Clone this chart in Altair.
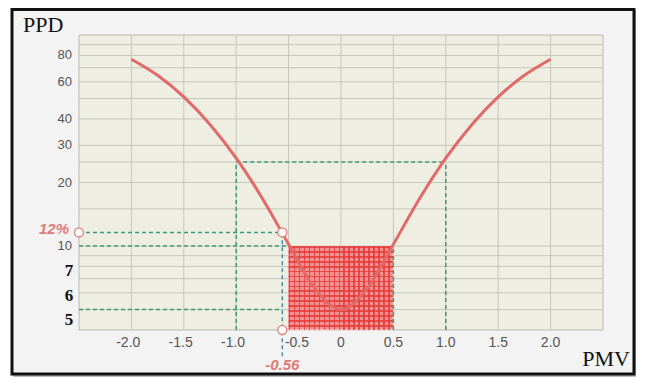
import altair as alt
import pandas as pd

# ---- data ----
pmv = [-2.0, -1.75, -1.5, -1.25, -1.0, -0.75, -0.5, -0.25, 0.0,
       0.25, 0.5, 0.75, 1.0, 1.25, 1.5, 1.75, 2.0]
ppd = [76.8, 64.4, 50.9, 37.7, 26.1, 16.8, 10.2, 6.3, 5.0,
       6.3, 10.2, 16.8, 26.1, 37.7, 50.9, 64.4, 76.8]

x_ticks = [-2.0, -1.5, -1.0, -0.5, 0.0, 0.5, 1.0, 1.5, 2.0]
x_tick_labels = ["-2.0", "-1.5", "-1.0", "-0.5", "0", "0.5", "1.0", "1.5", "2.0"]
x_label_pos = [-2.03, -1.53, -1.03, -0.42, 0.0, 0.5, 1.0, 1.5, 2.0]
y_ticks = [10, 20, 30, 40, 60, 80]
y_tick_labels = ["10", "20", "30", "40", "60", "80"]
y_grid = [5, 6, 7, 8, 9, 10, 15, 20, 25, 30, 40, 50, 60, 70, 80, 90]
serif_labels = ["7", "6", "5"]
serif_label_pos = [7.61, 5.8, 4.46]

zone_x = [-0.5, 0.5]
zone_y = [4, 10]

seg_x1 = [-1.0, -1.0, 1.0, -2.5, -0.56, -2.5, 0.5, -2.5]
seg_x2 = [1.0, -1.0, 1.0, -0.56, -0.56, -0.56, 0.5, -0.5]
seg_y1 = [25, 4, 4, 11.6, 3.0, 5.0, 4, 10]
seg_y2 = [25, 25, 25, 11.6, 11.6, 5.0, 10, 10]
seg_col = ["#3f9a78", "#3f9a78", "#3f9a78", "#3f9a78", "#4a8fa8", "#3f9a78", "#3f9a78", "#3f9a78"]

marker_x = [-2.5, -0.56, -0.56]
marker_y = [11.6, 11.6, 4]

X_DOM = [-2.5, 2.5]
Y_DOM = [4, 100]

W, H = 524, 295

xs = alt.Scale(domain=X_DOM, nice=False, zero=False)
ys = alt.Scale(type="log", domain=Y_DOM, nice=False)

one = pd.DataFrame({"a": [0]})

# outer frame (decoration)
shadow = alt.Chart(one).mark_rect(fill="#f3f3f3", stroke="#a0a0a0", strokeWidth=4, opacity=0.7).encode(
    x=alt.value(-64), x2=alt.value(558), y=alt.value(-23), y2=alt.value(342))
frame = alt.Chart(one).mark_rect(fill="#f3f3f3", stroke="#111111", strokeWidth=3).encode(
    x=alt.value(-67), x2=alt.value(555), y=alt.value(-25.5), y2=alt.value(339))

# plot background
bg_df = pd.DataFrame({"x0": [X_DOM[0]], "x1": [X_DOM[1]], "y0": [Y_DOM[0]], "y1": [Y_DOM[1]]})
bg = alt.Chart(bg_df).mark_rect(fill="#efeee2", stroke="#b9b9b0", strokeWidth=1).encode(
    x=alt.X("x0:Q", scale=xs, axis=None), x2="x1:Q",
    y=alt.Y("y0:Q", scale=ys, axis=None), y2="y1:Q")

# grid lines
vgrid = alt.Chart(pd.DataFrame({"x": x_ticks})).mark_rule(color="#c6c6ba", strokeWidth=1).encode(
    x=alt.X("x:Q", scale=xs, axis=None), y=alt.value(0), y2=alt.value(H))
hgrid = alt.Chart(pd.DataFrame({"y": y_grid})).mark_rule(color="#c6c6ba", strokeWidth=1).encode(
    y=alt.Y("y:Q", scale=ys, axis=None), x=alt.value(0), x2=alt.value(W))

# tick labels and axis titles
xlab = alt.Chart(pd.DataFrame({"x": x_label_pos, "t": x_tick_labels})).mark_text(
    align="center", baseline="middle", font="Liberation Sans", fontSize=14, color="#555555").encode(
    x=alt.X("x:Q", scale=xs, axis=None), y=alt.value(H + 13), text="t:N")
ylab = alt.Chart(pd.DataFrame({"y": y_ticks, "t": y_tick_labels})).mark_text(
    align="right", baseline="middle", font="Liberation Sans", fontSize=13, color="#555555").encode(
    y=alt.Y("y:Q", scale=ys, axis=None), x=alt.value(-7), text="t:N")
title_y = alt.Chart(pd.DataFrame({"t": ["PPD"]})).mark_text(
    align="left", baseline="middle", font="Liberation Serif", fontSize=22, color="#111111").encode(
    x=alt.value(-56), y=alt.value(-10), text="t:N")
title_x = alt.Chart(pd.DataFrame({"t": ["PMV"]})).mark_text(
    align="right", baseline="middle", font="Liberation Serif", fontSize=22, color="#111111").encode(
    x=alt.value(551), y=alt.value(H + 29), text="t:N")

# comfort zone (hatched red)
LINE = "rgba(228,56,56,0.8)"
CLEAR = "rgba(255,255,255,0)"

def stripes(n, vertical):
    stops = []
    for i in range(n):
        a, b, c = i / n, (i + 0.35) / n, (i + 1) / n
        stops += [alt.GradientStop(offset=a, color=LINE), alt.GradientStop(offset=b, color=LINE),
                  alt.GradientStop(offset=b, color=CLEAR), alt.GradientStop(offset=c, color=CLEAR)]
    if vertical:
        return alt.LinearGradient(gradient="linear", stops=stops, x1=0, x2=0, y1=0, y2=1)
    return alt.LinearGradient(gradient="linear", stops=stops, x1=0, x2=1, y1=0, y2=0)

zone_df = pd.DataFrame({"x0": [zone_x[0]], "x1": [zone_x[1]], "y0": [zone_y[0]], "y1": [zone_y[1]]})
zenc = dict(x=alt.X("x0:Q", scale=xs, axis=None), x2="x1:Q",
            y=alt.Y("y0:Q", scale=ys, axis=None), y2="y1:Q")
zone_base = alt.Chart(zone_df).mark_rect(fill="#f39090", stroke="#fbe0e0", strokeWidth=1).encode(**zenc)
zone_h = alt.Chart(zone_df).mark_rect(fill=stripes(21, False)).encode(**zenc)
zone_v = alt.Chart(zone_df).mark_rect(fill=stripes(17, True)).encode(**zenc)

# dashed guide lines
seg_df = pd.DataFrame({"x1": seg_x1, "x2": seg_x2, "y1": seg_y1, "y2": seg_y2, "c": seg_col})
segs = alt.Chart(seg_df).mark_rule(strokeDash=[4, 3], strokeWidth=1.5).encode(
    x=alt.X("x1:Q", scale=xs, axis=None), x2="x2:Q",
    y=alt.Y("y1:Q", scale=ys, axis=None), y2="y2:Q",
    color=alt.Color("c:N", scale=None))

# PPD curve
curve = alt.Chart(pd.DataFrame({"pmv": pmv, "ppd": ppd})).mark_line(
    color="#e06a68", strokeWidth=3, interpolate="monotone").encode(
    x=alt.X("pmv:Q", scale=xs, axis=None), y=alt.Y("ppd:Q", scale=ys, axis=None))

# hollow markers
markers = alt.Chart(pd.DataFrame({"x": marker_x, "y": marker_y})).mark_point(
    shape="circle", filled=True, fill="#ffffff", stroke="#e08a88", strokeWidth=1.5, size=80, opacity=1).encode(
    x=alt.X("x:Q", scale=xs, axis=None), y=alt.Y("y:Q", scale=ys, axis=None))

# annotations
lab12 = alt.Chart(pd.DataFrame({"x": [-2.5], "y": [11.6], "t": ["12%"]})).mark_text(
    align="right", baseline="middle", dx=-10, dy=-3, font="Liberation Sans", fontSize=15,
    fontStyle="italic", fontWeight="bold", color="#e07a78").encode(
    x=alt.X("x:Q", scale=xs, axis=None), y=alt.Y("y:Q", scale=ys, axis=None), text="t:N")
lab056 = alt.Chart(pd.DataFrame({"x": [-0.56], "y": [2.72], "t": ["-0.56"]})).mark_text(
    align="center", baseline="middle", font="Liberation Sans", fontSize=15,
    fontStyle="italic", fontWeight="bold", color="#e07a78").encode(
    x=alt.X("x:Q", scale=xs, axis=None), y=alt.Y("y:Q", scale=ys, axis=None), text="t:N")
serif = alt.Chart(pd.DataFrame({"y": serif_label_pos, "t": serif_labels})).mark_text(
    align="center", baseline="middle", font="Liberation Serif", fontSize=17, fontWeight="bold",
    color="#111111").encode(
    x=alt.value(-10), y=alt.Y("y:Q", scale=ys, axis=None), text="t:N")

chart = alt.layer(
    shadow, frame, bg, vgrid, hgrid, zone_base, zone_h, zone_v, segs, curve, markers,
    xlab, ylab, title_y, title_x, lab12, lab056, serif
).properties(
    width=W, height=H,
    autosize=alt.AutoSizeParams(type="none"),
    padding={"left": 71, "top": 27, "right": 33, "bottom": 47},
    background="#ffffff",
).configure_view(stroke=None)

chart.save("out.html", embed_options={"renderer": "svg", "actions": False})
